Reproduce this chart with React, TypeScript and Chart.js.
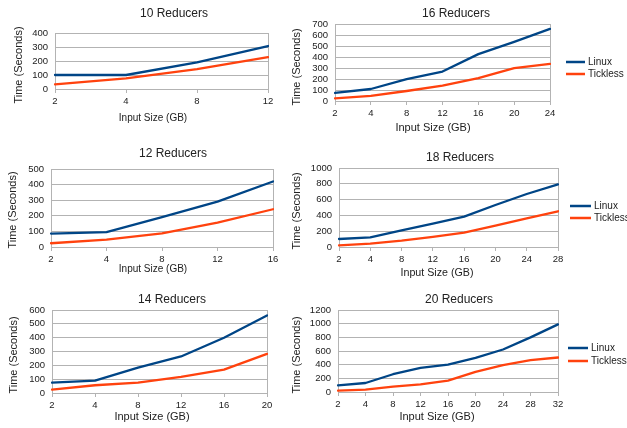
import { useEffect, useRef } from 'react';
import { Chart, registerables } from 'chart.js';

Chart.register(...registerables);

const FONT = '"Liberation Sans", Arial, Helvetica, sans-serif';
const LINUX_COLOR = '#004586';
const TICKLESS_COLOR = '#ff420e';
const GRID = '#b3b3b3';
const TEXT = '#222222';

// ---------- data ----------
const sizes10 = ['2', '4', '8', '12'];
const linux10 = [100, 100, 190, 307];
const tickless10 = [33, 76, 142, 228];

const sizes16 = ['2', '4', '8', '12', '16', '20', '24'];
const linux16 = [73, 109, 198, 268, 426, 538, 656];
const tickless16 = [24, 46, 91, 140, 207, 298, 337];

const sizes12 = ['2', '4', '8', '12', '16'];
const linux12 = [86, 95, 192, 291, 420];
const tickless12 = [24, 47, 88, 157, 242];

const sizes18 = ['2', '4', '8', '12', '16', '20', '24', '28'];
const linux18 = [101, 122, 211, 295, 384, 532, 671, 793];
const tickless18 = [21, 42, 80, 127, 181, 270, 363, 452];

const sizes14 = ['2', '4', '8', '12', '16', '20'];
const linux14 = [75, 90, 184, 264, 399, 561];
const tickless14 = [24, 56, 75, 116, 169, 283];

const sizes20 = ['2', '4', '8', '12', '16', '20', '24', '28', '32'];
const linux20 = [98, 132, 260, 353, 402, 500, 622, 799, 990];
const tickless20 = [20, 34, 78, 113, 167, 294, 392, 466, 505];

const seriesNames = ['Linux', 'Tickless'];

// ---------- layout (page coordinates) ----------
type Box = { x: number; y: number; w: number; h: number };
type Plot = { l: number; t: number; r: number; b: number };
type PanelDef = {
  title: string;
  labels: string[];
  linux: number[];
  tickless: number[];
  yMax: number;
  yStep: number;
  canvas: Box;
  plot: Plot;
  titlePos: [number, number];
  xTitlePos: [number, number];
  xTitleSize: number;
  yTitlePos: [number, number];
  legend?: { x1: number; x2: number; tx: number; y: number[] };
};

const panels: PanelDef[] = [
  {
    title: '10 Reducers', labels: sizes10, linux: linux10, tickless: tickless10, yMax: 400, yStep: 100,
    canvas: { x: 0, y: 0, w: 290, h: 140 }, plot: { l: 55, t: 33, r: 268, b: 89 },
    titlePos: [174, 14], xTitlePos: [153, 118], xTitleSize: 10, yTitlePos: [18.5, 65],
  },
  {
    title: '16 Reducers', labels: sizes16, linux: linux16, tickless: tickless16, yMax: 700, yStep: 100,
    canvas: { x: 290, y: 0, w: 337, h: 140 }, plot: { l: 335, t: 24, r: 550, b: 101 },
    titlePos: [456, 14], xTitlePos: [433, 128], xTitleSize: 11, yTitlePos: [297, 67],
    legend: { x1: 566, x2: 585, tx: 588, y: [62, 74] },
  },
  {
    title: '12 Reducers', labels: sizes12, linux: linux12, tickless: tickless12, yMax: 500, yStep: 100,
    canvas: { x: 0, y: 140, w: 290, h: 143 }, plot: { l: 51, t: 169, r: 273, b: 247 },
    titlePos: [173, 154], xTitlePos: [153, 269], xTitleSize: 10, yTitlePos: [12.5, 210],
  },
  {
    title: '18 Reducers', labels: sizes18, linux: linux18, tickless: tickless18, yMax: 1000, yStep: 200,
    canvas: { x: 290, y: 140, w: 337, h: 143 }, plot: { l: 339, t: 168, r: 558, b: 247 },
    titlePos: [460, 158], xTitlePos: [437, 273], xTitleSize: 10.7, yTitlePos: [297, 211],
    legend: { x1: 570, x2: 591, tx: 594, y: [206, 218] },
  },
  {
    title: '14 Reducers', labels: sizes14, linux: linux14, tickless: tickless14, yMax: 600, yStep: 100,
    canvas: { x: 0, y: 283, w: 290, h: 145 }, plot: { l: 52, t: 310, r: 267, b: 393 },
    titlePos: [172, 300], xTitlePos: [152, 417], xTitleSize: 11, yTitlePos: [13.5, 355],
  },
  {
    title: '20 Reducers', labels: sizes20, linux: linux20, tickless: tickless20, yMax: 1200, yStep: 200,
    canvas: { x: 290, y: 283, w: 337, h: 145 }, plot: { l: 338, t: 310, r: 558, b: 392 },
    titlePos: [459, 300], xTitlePos: [437, 417], xTitleSize: 11, yTitlePos: [297, 355],
    legend: { x1: 568, x2: 588, tx: 591, y: [348, 361] },
  },
];

const Y_AXIS_W = 40;
const X_AXIS_H = 20;

const annotPlugin = {
  id: 'annot',
  afterDraw(chart: any, _args: any, o: any) {
    const ctx: CanvasRenderingContext2D = chart.ctx;
    ctx.save();
    ctx.fillStyle = TEXT;
    ctx.textAlign = 'center';
    ctx.textBaseline = 'middle';
    ctx.font = `12px ${FONT}`;
    ctx.fillText(o.title, o.titlePos[0], o.titlePos[1]);
    ctx.font = `${o.xTitleSize}px ${FONT}`;
    ctx.fillText('Input Size (GB)', o.xTitlePos[0], o.xTitlePos[1]);
    ctx.save();
    ctx.translate(o.yTitlePos[0], o.yTitlePos[1]);
    ctx.rotate(-Math.PI / 2);
    ctx.font = `11px ${FONT}`;
    ctx.fillText('Time (Seconds)', 0, 0);
    ctx.restore();
    if (o.legend) {
      const lg = o.legend;
      chart.data.datasets.forEach((ds: any, i: number) => {
        const y = lg.y[i];
        ctx.strokeStyle = ds.borderColor;
        ctx.lineWidth = 2.5;
        ctx.beginPath();
        ctx.moveTo(lg.x1, y);
        ctx.lineTo(lg.x2, y);
        ctx.stroke();
        ctx.fillStyle = TEXT;
        ctx.textAlign = 'left';
        ctx.font = `10px ${FONT}`;
        ctx.fillText(ds.label, lg.tx, y + 0.5);
      });
    }
    ctx.restore();
  },
};

function ChartPanel({ p }: { p: PanelDef }) {
  const ref = useRef<HTMLCanvasElement | null>(null);
  useEffect(() => {
    if (!ref.current) return;
    const c = p.canvas;
    const rel = (pt: [number, number]): [number, number] => [pt[0] - c.x, pt[1] - c.y];
    const lastIdx = p.labels.length - 1;
    const chart = new Chart(ref.current, {
      type: 'line',
      data: {
        labels: p.labels,
        datasets: [
          {
            label: seriesNames[0], data: p.linux, borderColor: LINUX_COLOR, backgroundColor: LINUX_COLOR,
            borderWidth: 2.3, pointRadius: 0, tension: 0, borderJoinStyle: 'round', borderCapStyle: 'round',
          },
          {
            label: seriesNames[1], data: p.tickless, borderColor: TICKLESS_COLOR, backgroundColor: TICKLESS_COLOR,
            borderWidth: 2.3, pointRadius: 0, tension: 0, borderJoinStyle: 'round', borderCapStyle: 'round',
          },
        ],
      },
      options: {
        responsive: false,
        animation: false,
        events: [],
        layout: {
          padding: {
            left: p.plot.l - c.x - Y_AXIS_W,
            top: p.plot.t - c.y,
            right: c.x + c.w - p.plot.r,
            bottom: c.y + c.h - p.plot.b - X_AXIS_H,
          },
        },
        plugins: {
          legend: { display: false },
          title: { display: false },
          tooltip: { enabled: false },
          annot: {
            title: p.title,
            titlePos: rel(p.titlePos),
            xTitlePos: rel(p.xTitlePos),
            xTitleSize: p.xTitleSize,
            yTitlePos: rel(p.yTitlePos),
            legend: p.legend
              ? { x1: p.legend.x1 - c.x, x2: p.legend.x2 - c.x, tx: p.legend.tx - c.x, y: p.legend.y.map((v) => v - c.y) }
              : null,
          },
        } as any,
        scales: {
          x: {
            type: 'category',
            offset: false,
            grid: {
              display: true,
              drawOnChartArea: true,
              color: (ctx: any) => (ctx.index === lastIdx ? GRID : 'rgba(0,0,0,0)'),
              tickColor: GRID,
              tickLength: 4,
              lineWidth: 1,
            },
            border: { display: true, color: GRID, width: 1 },
            ticks: {
              color: TEXT,
              font: { family: FONT, size: 9.5 },
              padding: 3,
              autoSkip: false,
              maxRotation: 0,
              minRotation: 0,
            },
            afterFit: (scale: any) => {
              scale.height = X_AXIS_H;
              scale.paddingLeft = 0;
              scale.paddingRight = 0;
            },
          },
          y: {
            min: 0,
            max: p.yMax,
            ticks: {
              stepSize: p.yStep,
              autoSkip: false,
              color: TEXT,
              font: { family: FONT, size: 9.5 },
              padding: 7,
              callback: (v: any) => String(v),
            },
            grid: { color: GRID, lineWidth: 1, drawTicks: false },
            border: { display: true, color: GRID, width: 1 },
            afterFit: (scale: any) => {
              scale.width = Y_AXIS_W;
              scale.paddingTop = 0;
              scale.paddingBottom = 0;
            },
          },
        },
      },
      plugins: [annotPlugin],
    } as any);
    return () => chart.destroy();
  }, [p]);
  return (
    <canvas
      ref={ref}
      width={p.canvas.w}
      height={p.canvas.h}
      style={{ position: 'absolute', left: p.canvas.x, top: p.canvas.y, width: p.canvas.w, height: p.canvas.h }}
    />
  );
}

export default function App() {
  return (
    <div style={{ position: 'absolute', left: 0, top: 0, width: 627, height: 428, background: '#ffffff' }}>
      {panels.map((p) => (
        <ChartPanel key={p.title} p={p} />
      ))}
    </div>
  );
}
